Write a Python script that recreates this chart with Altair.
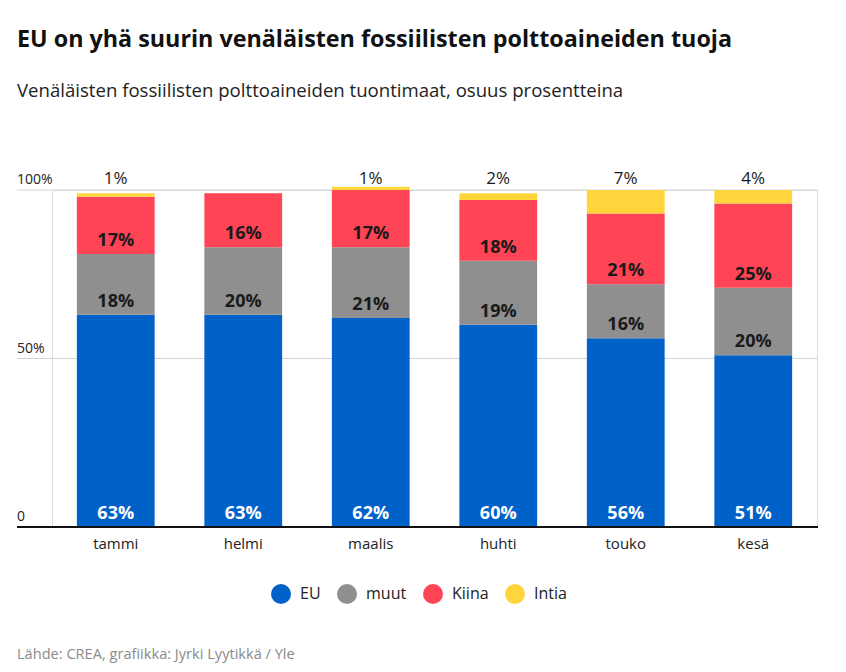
import altair as alt
import pandas as pd

months = ["tammi", "helmi", "maalis", "huhti", "touko", "kesä"]
series = ["EU", "muut", "Kiina", "Intia"]
colors = ["#0062c9", "#8f8f8f", "#ff4555", "#ffd53c"]
eu = [63, 63, 62, 60, 56, 51]
muut = [18, 20, 21, 19, 16, 20]
kiina = [17, 16, 17, 18, 21, 25]
intia = [1, 0, 1, 2, 7, 4]

y_ticks = [0, 50, 100]
y_tick_labels = ["0", "50%", "100%"]

title = "EU on yhä suurin venäläisten fossiilisten polttoaineiden tuoja"
subtitle = "Venäläisten fossiilisten polttoaineiden tuontimaat, osuus prosentteina"
source = "Lähde: CREA, grafiikka: Jyrki Lyytikkä / Yle"

FONT = "Open Sans"

rows = []
for s_i, (s, vals) in enumerate(zip(series, [eu, muut, kiina, intia])):
    for m, v in zip(months, vals):
        rows.append({"month": m, "series": s, "order": s_i, "value": v, "label": f"{v}%"})
df = pd.DataFrame(rows)

W, H = 765, 337

base = alt.Chart(df).transform_stack(
    stack="value", groupby=["month"], as_=["y0", "y1"],
    sort=[alt.SortField("order", order="ascending")]
)

xenc = alt.X("month:N", sort=months, title=None,
             scale=alt.Scale(paddingInner=0.39, paddingOuter=0.195),
             axis=alt.Axis(domain=False, ticks=False, labelAngle=0, labelFontSize=15,
                           labelColor="#222222", labelPadding=9, labelFont=FONT))
yscale = alt.Scale(domain=[0, 100], nice=False, zero=True)

ticks_df = pd.DataFrame({"v": y_ticks, "lab": y_tick_labels})
grid = alt.Chart(ticks_df).transform_filter("datum.v > 0").mark_rule(color="#d4d4d4", strokeWidth=1).encode(
    y=alt.Y("v:Q", scale=yscale, axis=None), x=alt.value(-35), x2=alt.value(W + 1))
baseline = alt.Chart(ticks_df).transform_filter("datum.v == 0").mark_rule(color="#111111", strokeWidth=2).encode(
    y=alt.Y("v:Q", scale=yscale, axis=None), x=alt.value(-35), x2=alt.value(W + 1))
ylabels = alt.Chart(ticks_df).mark_text(align="left", baseline="middle", dy=-10, fontSize=14,
                                         color="#222222", font=FONT).encode(
    y=alt.Y("v:Q", scale=yscale, axis=None), x=alt.value(-35), text="lab:N")

bars = base.mark_bar().encode(
    x=xenc,
    y=alt.Y("y0:Q", scale=yscale, axis=None),
    y2="y1:Q",
    color=alt.Color("series:N", scale=alt.Scale(domain=series, range=colors),
                    legend=alt.Legend(title=None, orient="none", legendX=219, legendY=394,
                                      direction="horizontal", symbolType="circle", symbolSize=400,
                                      symbolStrokeWidth=0, labelFontSize=16, labelColor="#222222",
                                      labelFont=FONT, labelOffset=9, columnPadding=16)),
)

lab_white = base.transform_filter("datum.series == 'EU'").mark_text(
    baseline="middle", dy=-13, fontSize=18, fontWeight="bold", color="white", font=FONT).encode(
    x=alt.X("month:N", sort=months), y=alt.Y("y0:Q", scale=yscale, axis=None), text="label:N")
lab_dark = base.transform_filter("(datum.series == 'muut' || datum.series == 'Kiina') && datum.value > 0").mark_text(
    baseline="middle", dy=-13, fontSize=18, fontWeight="bold", color="#1a1a1a", font=FONT).encode(
    x=alt.X("month:N", sort=months), y=alt.Y("y0:Q", scale=yscale, axis=None), text="label:N")
lab_top = alt.Chart(df).transform_filter("datum.series == 'Intia' && datum.value > 0").mark_text(
    baseline="middle", dy=-11, fontSize=17, color="#1a1a1a", font=FONT).encode(
    x=alt.X("month:N", sort=months), y=alt.Y("y:Q", scale=yscale, axis=None), text="label:N"
).transform_calculate(y="100")

txt = pd.DataFrame({"t": [title], "s": [subtitle], "f": [source]})
title_m = alt.Chart(txt).mark_text(align="left", baseline="middle", fontSize=23.3, fontWeight="bold",
                                   color="#111111", font=FONT).encode(
    x=alt.value(-35), y=alt.value(-150), text="t:N")
sub_m = alt.Chart(txt).mark_text(align="left", baseline="middle", fontSize=18.6,
                                 color="#222222", font=FONT).encode(
    x=alt.value(-35), y=alt.value(-99), text="s:N")
src_m = alt.Chart(txt).mark_text(align="left", baseline="middle", fontSize=14.6,
                                 color="#8a8a8a", font=FONT).encode(
    x=alt.value(-35), y=alt.value(465), text="f:N")

chart = alt.layer(grid, bars, baseline, ylabels, lab_white, lab_dark, lab_top, title_m, sub_m, src_m).properties(
    width=W, height=H,
    autosize=alt.AutoSizeParams(type="none"),
    padding={"left": 44, "top": 182, "right": 20, "bottom": 140},
).configure_view(stroke=None).configure(font=FONT)

chart.save("out.html", embed_options={"renderer": "svg", "actions": False})
